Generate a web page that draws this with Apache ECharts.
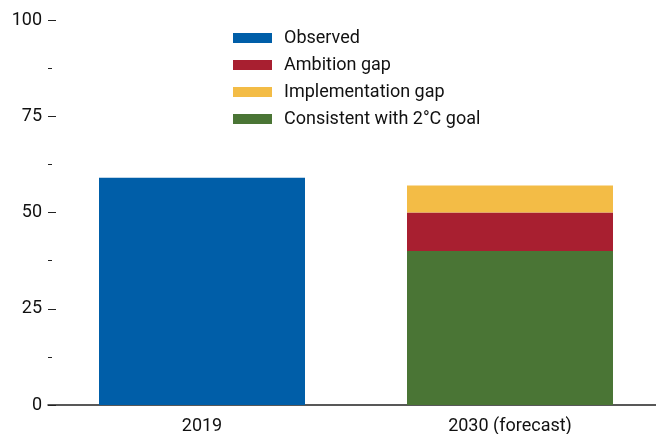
<!DOCTYPE html>
<html><head><meta charset="utf-8">
<script src="https://cdn.jsdelivr.net/npm/echarts@6/dist/echarts.min.js"></script>
<style>html,body{margin:0;padding:0;background:#fff}#c{width:656px;height:434px}</style>
</head><body><div id="c"></div>
<script>
const categories = ['2019', '2030 (forecast)'];
const observed = [59, '-'];
const consistent = ['-', 40];
const ambitionGap = ['-', 10];
const implementationGap = ['-', 7];
const yTicks = [0, 25, 50, 75, 100];

const FONT = '"Liberation Sans Narrow", "Arial Narrow", Roboto, sans-serif';
const chart = echarts.init(document.getElementById('c'));
const bw = 206;
chart.setOption({
  animation: false,
  textStyle: { fontFamily: FONT },
  legend: {
    orient: 'vertical', left: 233, top: 29, padding: 0,
    itemWidth: 39, itemHeight: 10, itemGap: 9,
    icon: 'rect',
    data: ['Observed', 'Ambition gap', 'Implementation gap', 'Consistent with 2°C goal'],
    textStyle: { fontFamily: FONT, fontSize: 18, color: '#111', padding: [0, 0, 0, 7] }
  },
  grid: { left: 48, top: 20, bottom: 29, width: 616, outerBoundsMode: 'none' },
  xAxis: {
    type: 'category', data: categories,
    axisLine: { lineStyle: { color: '#222', width: 1.5 } },
    axisTick: { show: false },
    axisLabel: { fontFamily: FONT, fontSize: 18, color: '#111', margin: 12 }
  },
  yAxis: {
    type: 'value', min: yTicks[0], max: yTicks[yTicks.length - 1], interval: 25,
    axisLine: { show: false },
    splitLine: { show: false },
    axisTick: { show: true, inside: true, length: 8, lineStyle: { color: '#222', width: 1 } },
    minorTick: { show: true, splitNumber: 2, length: 4, lineStyle: { color: '#222', width: 1 } },
    axisLabel: { fontFamily: FONT, fontSize: 18, color: '#111', margin: 6 }
  },
  series: [
    { name: 'Observed', type: 'bar', stack: 's', barWidth: bw, data: observed, itemStyle: { color: '#005ea8' } },
    { name: 'Consistent with 2°C goal', type: 'bar', stack: 's', barWidth: bw, data: consistent, itemStyle: { color: '#4a7535' } },
    { name: 'Ambition gap', type: 'bar', stack: 's', barWidth: bw, data: ambitionGap, itemStyle: { color: '#a81f30' } },
    { name: 'Implementation gap', type: 'bar', stack: 's', barWidth: bw, data: implementationGap, itemStyle: { color: '#f3bc46' } }
  ]
});
</script></body></html>
